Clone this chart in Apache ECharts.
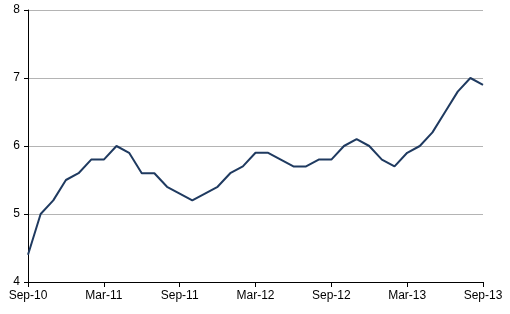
<!DOCTYPE html>
<html>
<head>
<meta charset="utf-8">
<script src="https://cdn.jsdelivr.net/npm/echarts@6/dist/echarts.min.js"></script>
<style>html,body{margin:0;padding:0;background:#fff;}#c{width:510px;height:314px;}</style>
</head>
<body>
<div id="c"></div>
<script>
var categories = ["Sep-10","Oct-10","Nov-10","Dec-10","Jan-11","Feb-11","Mar-11","Apr-11","May-11","Jun-11","Jul-11","Aug-11",
"Sep-11","Oct-11","Nov-11","Dec-11","Jan-12","Feb-12","Mar-12","Apr-12","May-12","Jun-12","Jul-12","Aug-12",
"Sep-12","Oct-12","Nov-12","Dec-12","Jan-13","Feb-13","Mar-13","Apr-13","May-13","Jun-13","Jul-13","Aug-13","Sep-13"];
var values = [4.4,5.0,5.2,5.5,5.6,5.8,5.8,6.0,5.9,5.6,5.6,5.4,
5.3,5.2,5.3,5.4,5.6,5.7,5.9,5.9,5.8,5.7,5.7,5.8,
5.8,6.0,6.1,6.0,5.8,5.7,5.9,6.0,6.2,6.5,6.8,7.0,6.9];
var yMin = 4, yMax = 8, yInterval = 1;

var chart = echarts.init(document.getElementById('c'), null, {renderer:'canvas'});
chart.setOption({
  animation:false,
  backgroundColor:'#ffffff',
  grid:{left:28,right:27,top:10,bottom:32,containLabel:false},
  xAxis:{
    type:'category',
    data:categories,
    boundaryGap:false,
    axisLine:{lineStyle:{color:'#000',width:1}},
    axisTick:{interval:5,length:5,lineStyle:{color:'#000'}},
    axisLabel:{interval:5,color:'#000',fontFamily:'Liberation Sans, Arial',fontSize:12,margin:8},
    splitLine:{show:false}
  },
  yAxis:{
    type:'value',
    min:yMin,max:yMax,interval:yInterval,
    axisLine:{show:true,lineStyle:{color:'#000',width:1}},
    axisTick:{show:true,length:4,lineStyle:{color:'#000'}},
    axisLabel:{color:'#000',fontFamily:'Liberation Sans, Arial',fontSize:12,margin:8},
    splitLine:{show:true,lineStyle:{color:'#b4b4b4',width:1}}
  },
  series:[{
    type:'line',
    data:values,
    symbol:'none',
    lineStyle:{color:'#1f3a60',width:2},
    itemStyle:{color:'#1f3a60'}
  }]
});
</script>
</body>
</html>
